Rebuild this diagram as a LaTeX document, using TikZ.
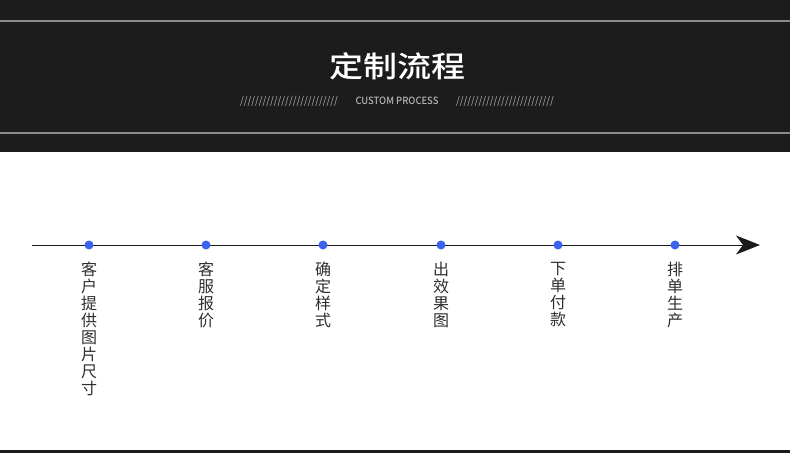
\documentclass[tikz,border=0pt]{standalone}
\usepackage{graphicx}
\usepackage{fontspec}
\newfontfamily\cjk{Noto Sans CJK SC}
\newfontfamily\cjkmed{Noto Sans CJK SC Medium}
\usetikzlibrary{positioning,arrows.meta}
\definecolor{bandgray}{HTML}{1C1C1C}
\definecolor{rulegray}{HTML}{8C8C8C}
\definecolor{subgray}{HTML}{B4B4B4}
\definecolor{dotblue}{HTML}{3A63EE}
\definecolor{labelgray}{HTML}{2E2E2E}
\begin{document}
\begin{tikzpicture}[x=1pt,y=1pt,
  dot/.style={circle,fill=dotblue,inner sep=0pt,minimum size=9pt},
  vlabel/.style={font=\cjk\fontsize{16}{17}\selectfont,text=labelgray,align=center,inner sep=0pt}]
\useasboundingbox (0,0) rectangle (790,-453);
% header band
\fill [bandgray] (0,0) rectangle (790,-152);
\draw [rulegray,line width=2pt] (0,-21) -- (790,-21);
\draw [rulegray,line width=2pt] (0,-133) -- (790,-133);
\path node (title) at (397,-66) [text=white,font=\cjkmed\fontsize{34}{34}\selectfont] {\scalebox{1}[0.86]{定制流程}}
      node (sub) at (397,-101) [text=subgray,font=\cjkmed] {\resizebox{83pt}{7.5pt}{CUSTOM PROCESS}}
      node (hatchl) at (289,-101) [text=subgray,font=\cjk] {\resizebox*{98pt}{10pt}{//////////////////////////}}
      node (hatchr) at (505,-101) [text=subgray,font=\cjk] {\resizebox*{98pt}{10pt}{//////////////////////////}};
% timeline
\coordinate (tlstart) at (32,-245);
\coordinate (tlend) at (760,-245);
\draw [labelgray!60!black,line width=1pt,-{Stealth[length=24pt,width=19pt,inset=7pt]}] (tlstart) -- (tlend);
\foreach \x/\i/\t in {89/1/{客\\户\\提\\供\\图\\片\\尺\\寸},
                      206/2/{客\\服\\报\\价},
                      323/3/{确\\定\\样\\式},
                      441/4/{出\\效\\果\\图},
                      558/5/{下\\单\\付\\款},
                      675/6/{排\\单\\生\\产}}
{
  \node [dot] (dot\i) at (\x,-245) {};
  \node [vlabel,below=12.5pt of dot\i] (lbl\i) {\t};
}
% bottom rule
\fill [bandgray] (0,-450) rectangle (790,-453);
\end{tikzpicture}
\end{document}
